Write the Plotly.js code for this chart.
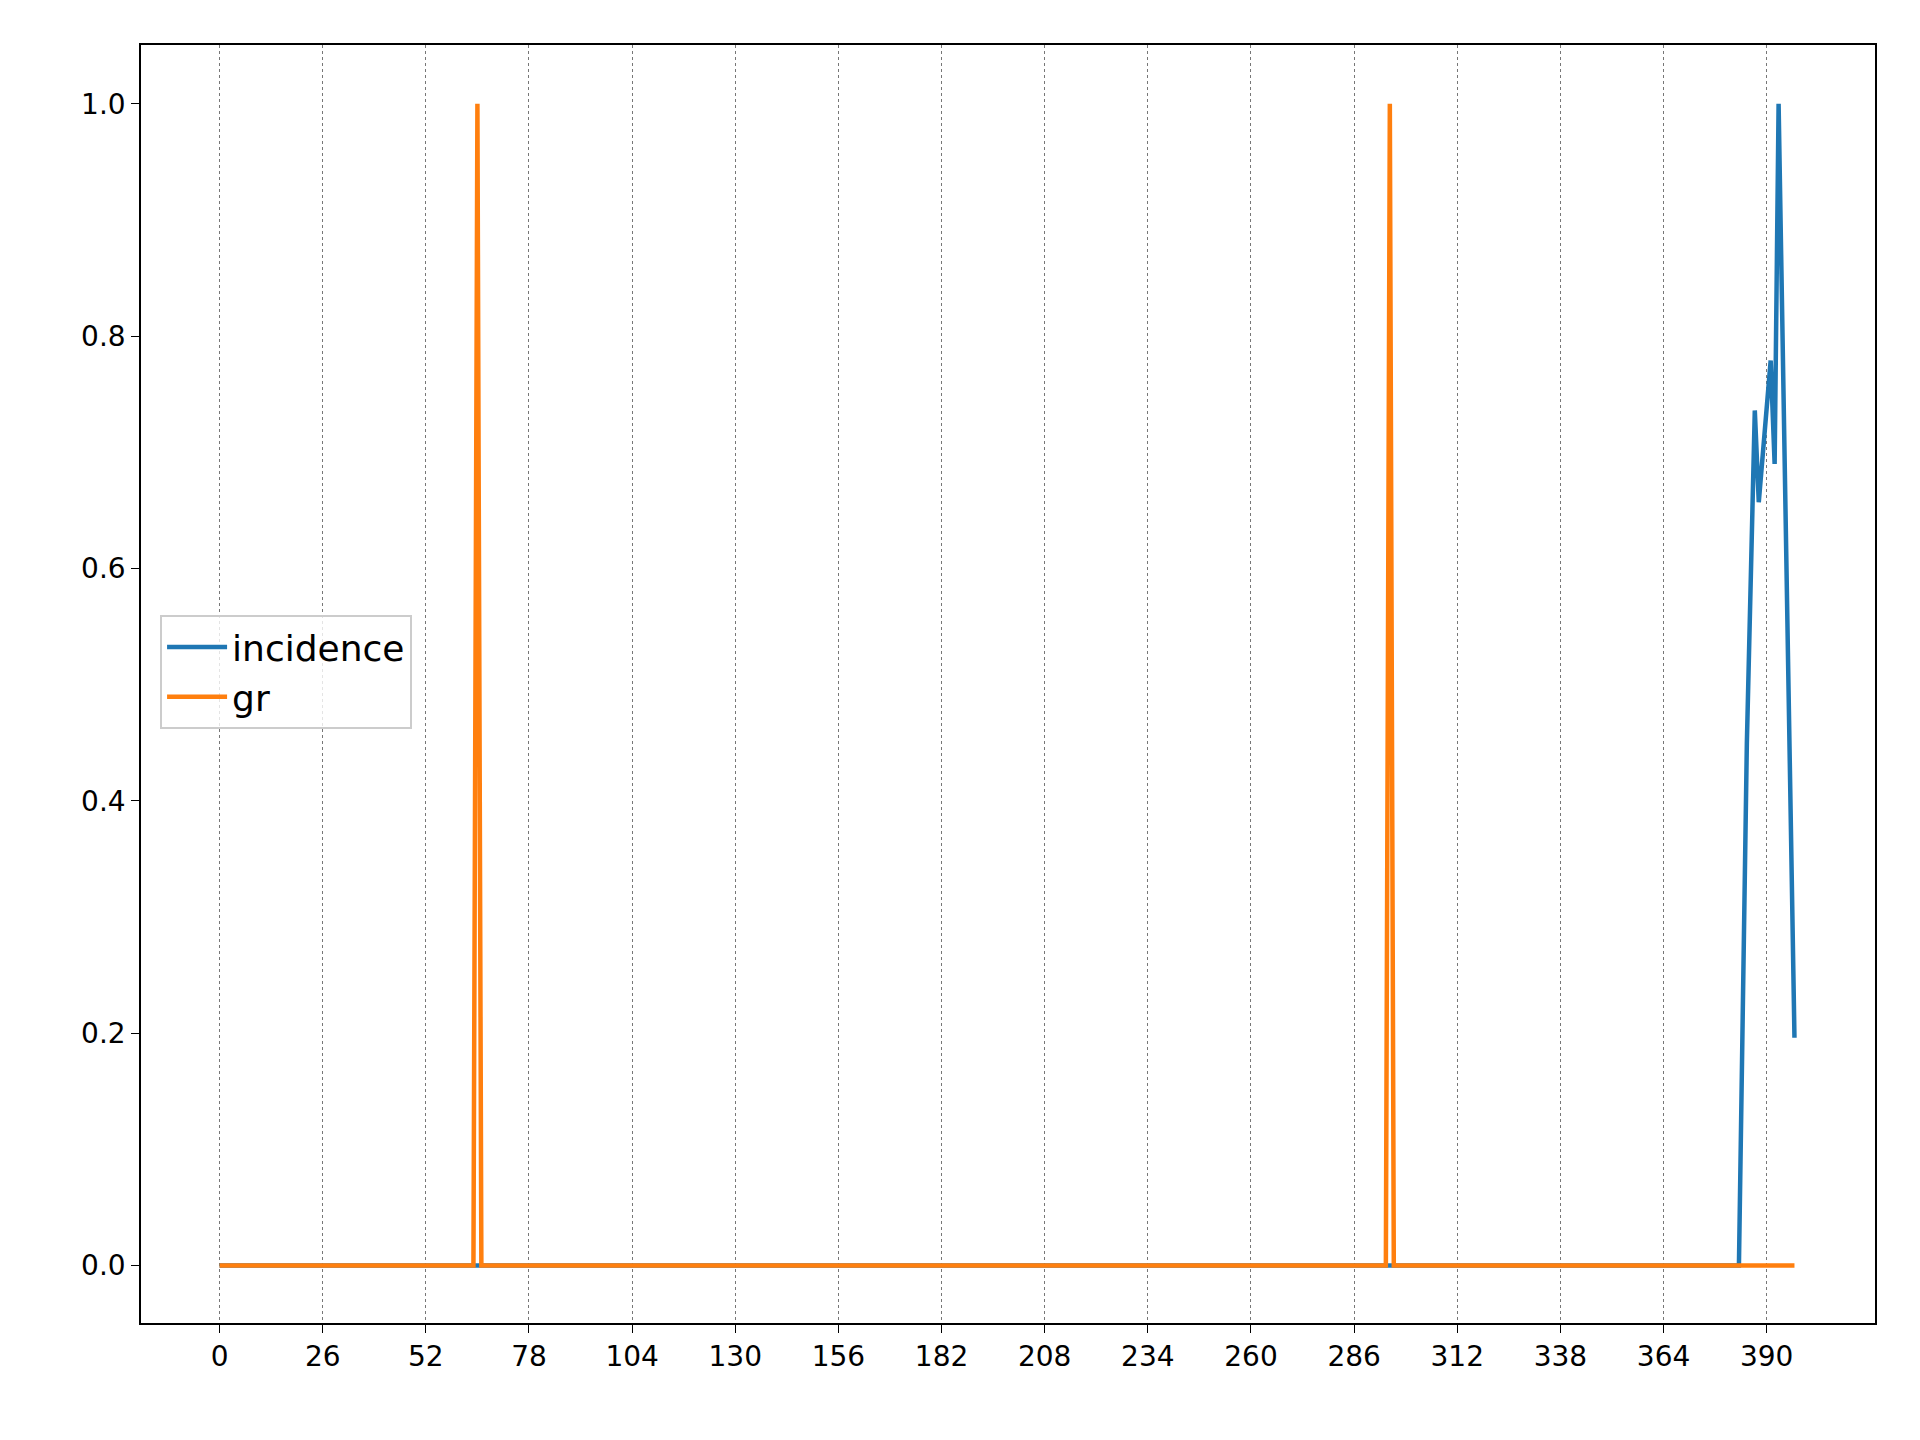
<!DOCTYPE html>
<html><head><meta charset="utf-8">
<script src="https://cdn.plot.ly/plotly-3.0.1.min.js"></script>
<style>body{margin:0;background:#fff}#c{width:1920px;height:1440px}</style>
</head><body><div id="c"></div>
<script>
const incidenceX = [0, 383, 385, 387, 388, 391, 392, 393, 397];
const incidenceY = [0, 0, 0.45, 0.736, 0.657, 0.779, 0.69, 1.0, 0.196];
const grX = [0, 64, 65, 66, 294, 295, 296, 397];
const grY = [0, 0, 1.0, 0, 0, 1.0, 0, 0];
const tickVals = [0,26,52,78,104,130,156,182,208,234,260,286,312,338,364,390];

const traces = [
  {x: incidenceX, y: incidenceY, mode: 'lines', name: 'incidence', line: {color: '#1f77b4', width: 4.5}},
  {x: grX, y: grY, mode: 'lines', name: 'gr', line: {color: '#ff7f0e', width: 4.5}}
];
const layout = {
  width: 1920, height: 1440,
  paper_bgcolor: '#fff', plot_bgcolor: '#fff',
  margin: {l: 141, r: 45, t: 45, b: 117},
  font: {family: 'DejaVu Sans', size: 28, color: '#000'},
  showlegend: true,
  legend: {x: 0.011, y: 0.554, xanchor: 'left', yanchor: 'top', bgcolor: 'rgba(255,255,255,0.8)',
           bordercolor: '#ccc', borderwidth: 2, font: {size: 36}, itemwidth: 60},
  xaxis: {range: [-19.8, 417.3], tickvals: tickVals, showgrid: true, gridcolor: '#777',
          griddash: '3px,3px', gridwidth: 1, zeroline: false, showline: true, mirror: true,
          linecolor: '#000', linewidth: 1.5, ticks: 'outside', ticklen: 8, tickcolor: '#000'},
  yaxis: {range: [-0.0496, 1.0506], tickvals: [0,0.2,0.4,0.6,0.8,1.0],
          ticktext: ['0.0','0.2','0.4','0.6','0.8','1.0'], showgrid: false, zeroline: false,
          showline: true, mirror: true, linecolor: '#000', linewidth: 1.5,
          ticks: 'outside', ticklen: 8, tickcolor: '#000'}
};
Plotly.newPlot('c', traces, layout, {displayModeBar: false});
</script></body></html>
